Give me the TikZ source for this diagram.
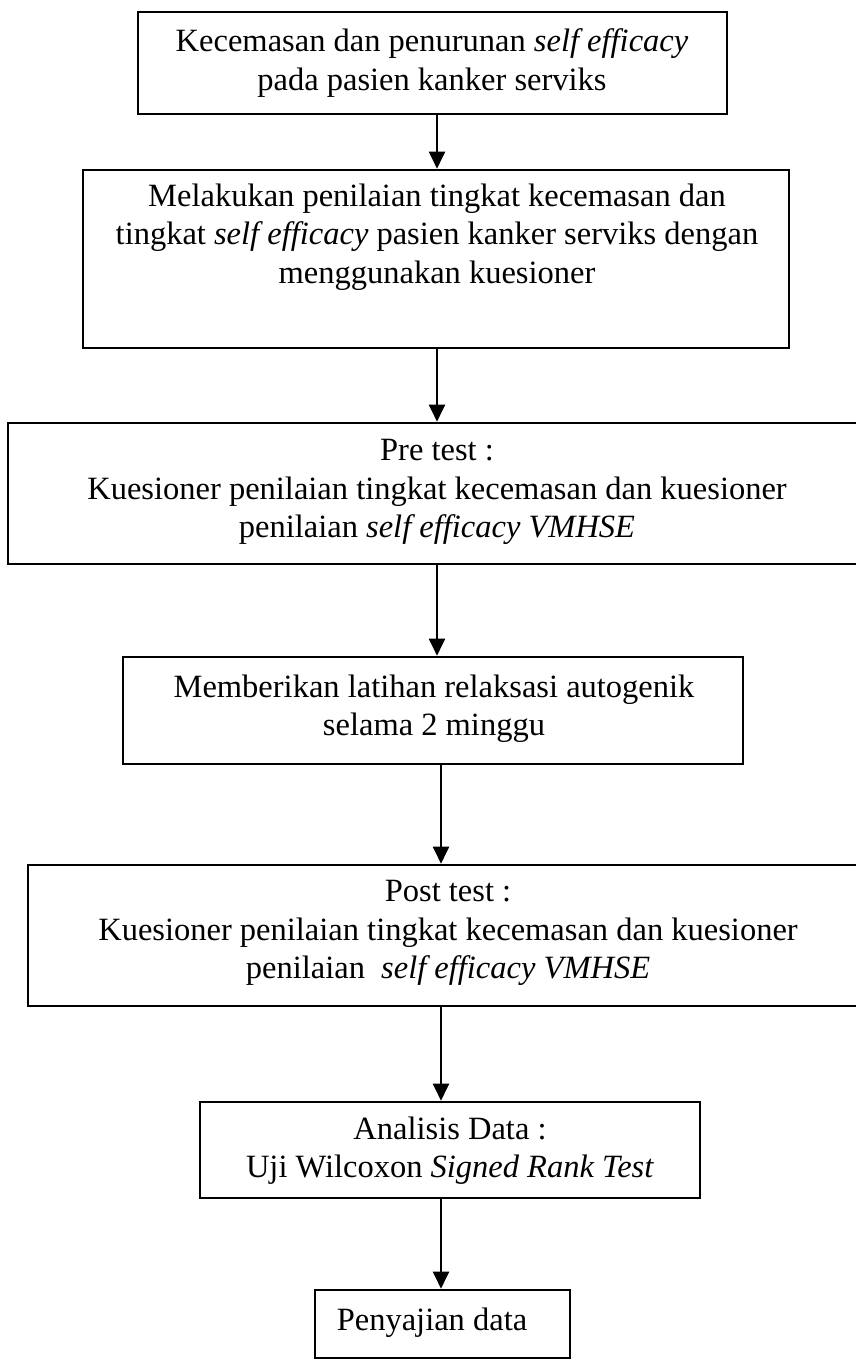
\documentclass[tikz,border=0pt]{standalone}
\usepackage{fontspec}
\setmainfont{Liberation Serif}
\usetikzlibrary{arrows.meta}

\begin{document}
\begin{tikzpicture}[x=1pt, y=-1pt,
	box/.style={draw, line width=2.6pt, inner sep=0pt},
	txt/.style={inner sep=0pt, align=center, font=\fontsize{32.5}{38.3}\selectfont},
	arr/.style={line width=2pt, -{Triangle[width=16pt,length=17pt]}}]
	\useasboundingbox (0,0) rectangle (855,1363);
	
	\coordinate (ax) at (437,0);
	\coordinate (bx) at (441,0);
	
	\node[box, minimum width=589pt, minimum height=102pt] (b1) at (432.5,63){};
	\node[box, minimum width=706pt, minimum height=178pt] (b2) at (436,259){};
	\node[box, minimum width=867pt, minimum height=141pt] (b3) at (441.5,493.5){};
	\node[box, minimum width=620pt, minimum height=107pt] (b4) at (433,710.5){};
	\node[box, minimum width=847pt, minimum height=141pt] (b5) at (451.5,935.5){};
	\node[box, minimum width=500pt, minimum height=96pt] (b6) at (450,1150){};
	\node[box, minimum width=255pt, minimum height=68pt] (b7) at (442.5,1324){};
	
	\node[txt] (t1) at (432,63){Kecemasan dan penurunan \textit{self efficacy}\\pada pasien kanker serviks};
	\node[txt] (t2) at (437,237){Melakukan penilaian tingkat kecemasan dan\\tingkat \textit{self efficacy} pasien kanker serviks dengan\\menggunakan kuesioner};
	\node[txt] (t3) at (437,492){Pre test :\\Kuesioner penilaian tingkat kecemasan dan kuesioner\\penilaian \textit{self efficacy VMHSE}};
	\node[txt] (t4) at (434,709){Memberikan latihan relaksasi autogenik\\selama 2 minggu};
	\node[txt] (t5) at (448,933){Post test :\\Kuesioner penilaian tingkat kecemasan dan kuesioner\\penilaian\ \ \textit{self efficacy VMHSE}};
	\node[txt] (t6) at (450,1151){Analisis Data :\\Uji Wilcoxon \textit{Signed Rank Test}};
	\node[txt] (t7) at (432,1323){Penyajian data};
	
	\draw[arr] (b1.south -| ax) -- (b2.north -| ax);
	\draw[arr] (b2.south -| ax) -- (b3.north -| ax);
	\draw[arr] (b3.south -| ax) -- (b4.north -| ax);
	\draw[arr] (b4.south -| bx) -- (b5.north -| bx);
	\draw[arr] (b5.south -| bx) -- (b6.north -| bx);
	\draw[arr] (b6.south -| bx) -- (b7.north -| bx);
\end{tikzpicture}
\end{document}
